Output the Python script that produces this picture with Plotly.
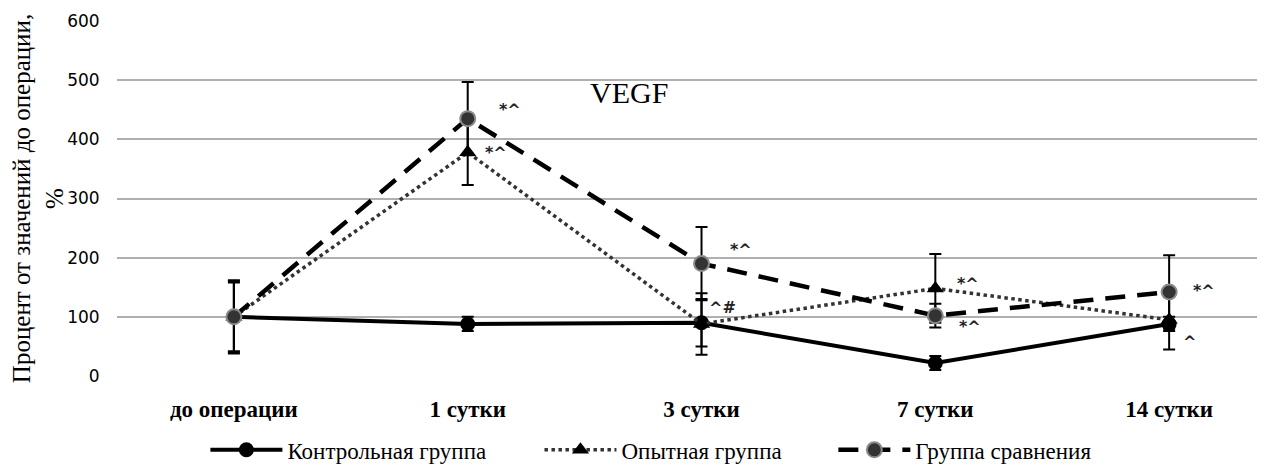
import plotly.graph_objects as go

categories = ["до операции", "1 сутки", "3 сутки", "7 сутки", "14 сутки"]
control = [100, 88, 90, 22, 88]
control_err = [60, 12, 40, 12, 12]
experimental = [100, 378, 88, 148, 95]
experimental_err = [58, 55, 52, 58, 50]
comparison = [100, 435, 190, 102, 142]
comparison_err = [62, 62, 62, 20, 62]
y_ticks = [0, 100, 200, 300, 400, 500, 600]

# significance marks: (category index, offset, y value, text)
marks = [
    (1, 0.18, 450, "*^"),
    (1, 0.12, 377, "*^"),
    (2, 0.17, 213, "*^"),
    (2, 0.09, 115, "^#"),
    (3, 0.14, 157, "*^"),
    (3, 0.15, 83, "*^"),
    (4, 0.15, 145, "*^"),
    (4, 0.085, 59, "^"),
]

xs = list(range(len(categories)))

fig = go.Figure()
fig.add_trace(go.Scatter(
    x=xs, y=control, name="Контрольная группа", mode="lines+markers",
    line=dict(color="black", width=4),
    marker=dict(symbol="circle", size=15, color="black"),
    error_y=dict(type="data", array=control_err, color="black", thickness=2, width=6),
    legend="legend",
))
fig.add_trace(go.Scatter(
    x=xs, y=experimental, name="Опытная группа", mode="lines+markers",
    line=dict(color="#333333", width=3.5, dash="dot"),
    marker=dict(symbol="triangle-up", size=15, color="black"),
    error_y=dict(type="data", array=experimental_err, color="black", thickness=2, width=6),
    legend="legend2",
))
fig.add_trace(go.Scatter(
    x=xs, y=comparison, name="Группа сравнения", mode="lines+markers",
    line=dict(color="black", width=4.5, dash="20px,12px"),
    marker=dict(symbol="circle", size=15, color="#333333", line=dict(color="#8a8a8a", width=2)),
    error_y=dict(type="data", array=comparison_err, color="black", thickness=2, width=6),
    legend="legend3",
))

for ci, off, yv, txt in marks:
    fig.add_annotation(x=ci + off, y=yv, text=txt, showarrow=False,
                       font=dict(family="DejaVu Sans", size=16, color="#222222", weight="bold"),
                       xanchor="center", yanchor="middle")

fig.add_annotation(x=1.69, y=480, text="VEGF", showarrow=False,
                   font=dict(family="Liberation Serif", size=30, color="black"),
                   xanchor="center", yanchor="middle")

legend_common = dict(orientation="h", y=-0.208, yanchor="middle", xanchor="left",
                     font=dict(family="Liberation Serif", size=23, color="black"),
                     itemwidth=72, bgcolor="rgba(0,0,0,0)")

fig.update_layout(
    width=1257, height=456,
    margin=dict(l=109, r=0, t=13, b=88, autoexpand=False),
    plot_bgcolor="white", paper_bgcolor="white",
    showlegend=True,
    legend=dict(x=0.077, **legend_common),
    legend2=dict(x=0.368, **legend_common),
    legend3=dict(x=0.624, **legend_common),
    xaxis=dict(
        range=[-0.5, 4.41], tickmode="array", tickvals=xs, ticktext=categories,
        showgrid=False, zeroline=False, showline=False, automargin=False,
        ticks="outside", ticklen=12, tickcolor="white",
        tickfont=dict(family="Liberation Serif", size=23, color="black", weight="bold"),
    ),
    yaxis=dict(
        range=[0, 600], tickvals=y_ticks, showgrid=True, gridcolor="#b0b0b0", gridwidth=2,
        zeroline=False, showline=False, automargin=False,
        ticks="outside", ticklen=13, tickcolor="white",
        tickfont=dict(family="DejaVu Sans", size=17, color="black"),
        title=dict(text="Процент от значений до операции,<br>%", standoff=2,
                   font=dict(family="Liberation Serif", size=25, color="black")),
    ),
)

fig.write_html("out.html")
